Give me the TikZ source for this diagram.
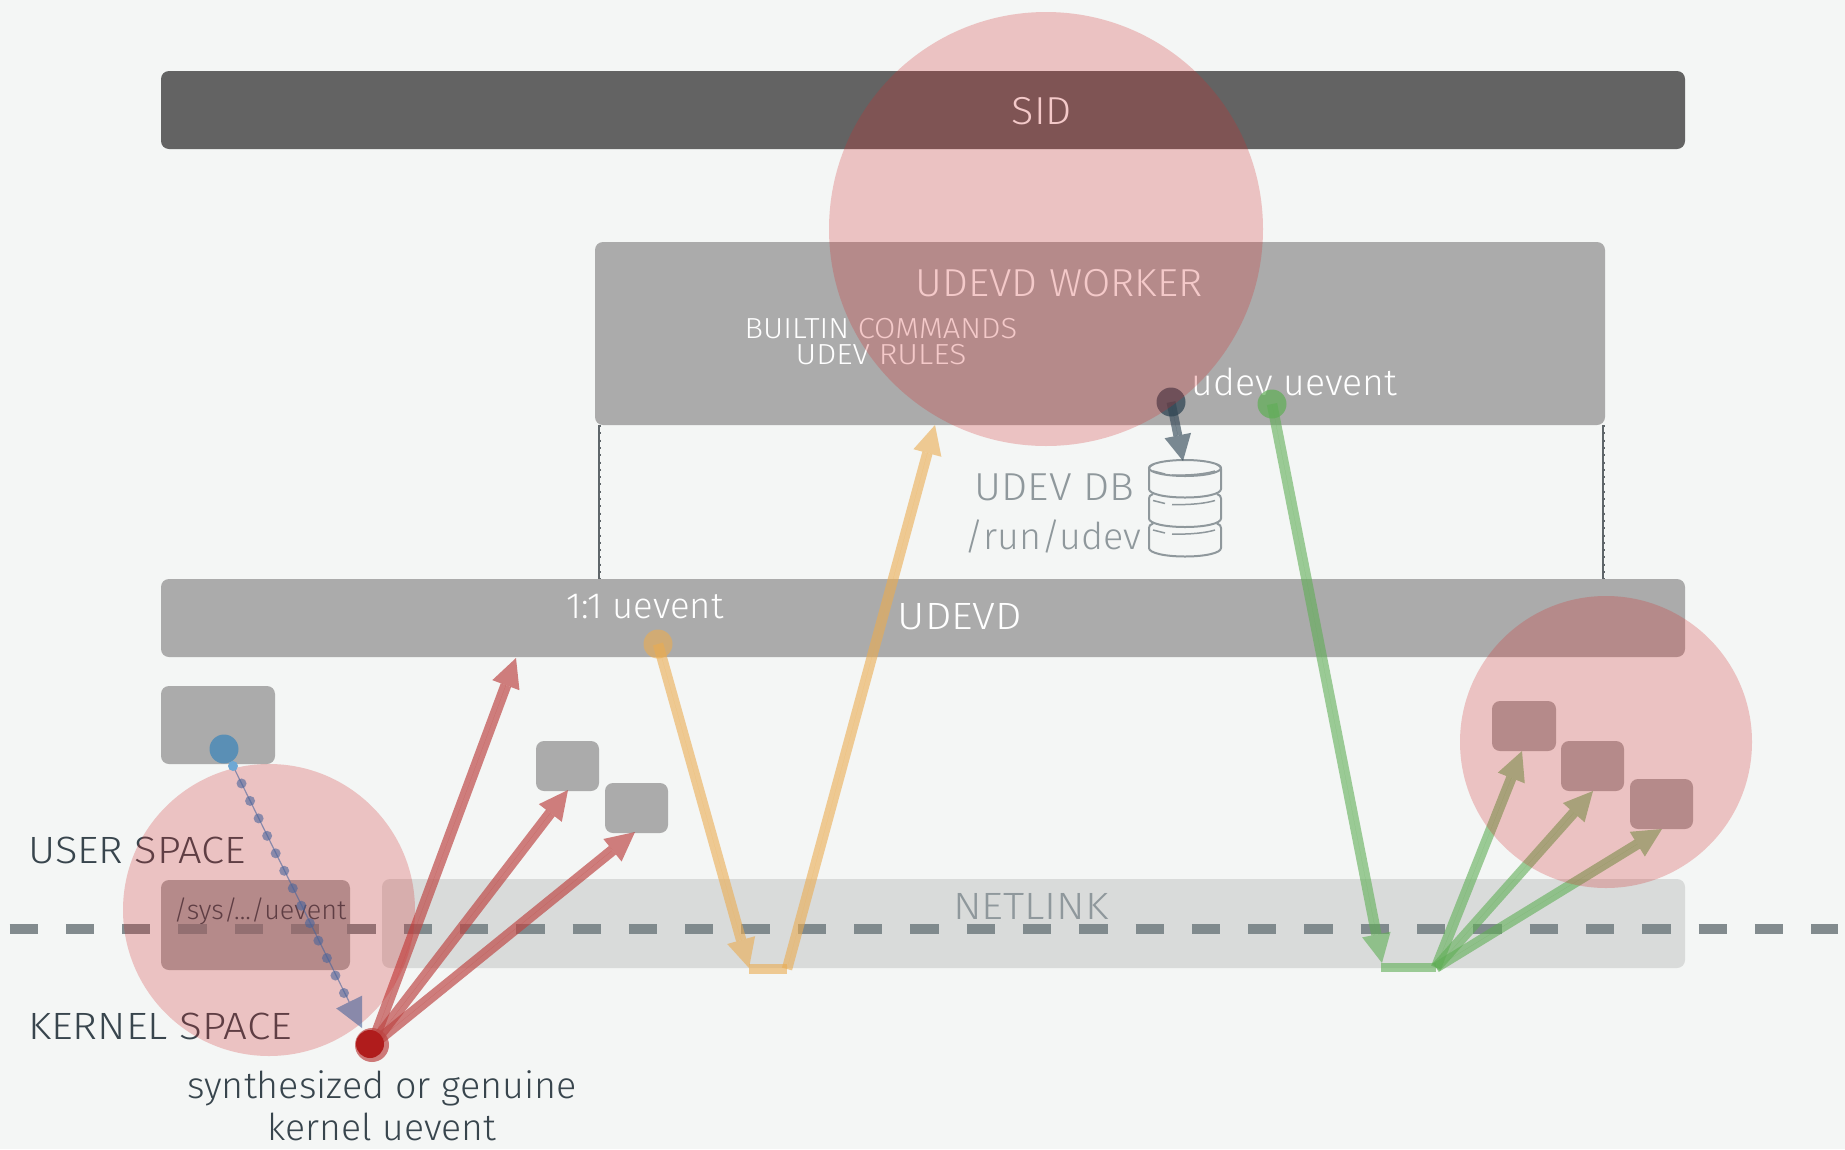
\documentclass[tikz,border=0pt]{standalone}
\usepackage{fontspec}
\setmainfont{Fira Sans}[UprightFont=* Light]
\usetikzlibrary{arrows.meta,calc}
\definecolor{bgc}{HTML}{F4F6F5}
\definecolor{barc}{HTML}{ABABAB}
\definecolor{sidc}{HTML}{636363}
\definecolor{netc}{HTML}{D9DBDA}
\definecolor{dashc}{HTML}{7C8689}
\definecolor{inkc}{HTML}{38454D}
\definecolor{tiec}{HTML}{5F666A}
\definecolor{mutec}{HTML}{8F989C}
\definecolor{redc}{HTML}{BD4543}
\definecolor{grnc}{HTML}{5FAE55}
\definecolor{orgc}{HTML}{EBAC50}
\definecolor{slatec}{HTML}{2F4554}
\definecolor{bluec}{HTML}{49649B}
\definecolor{halo}{HTML}{D42A2A}
\definecolor{bluedot}{HTML}{5A8FB5}
\definecolor{bluefirst}{HTML}{6EA8D4}
\definecolor{deepred}{HTML}{B01C1C}
\newcommand{\lab}[3]{\scalebox{#2}[1]{\fontsize{#1}{#1}\selectfont #3}}
\tikzset{
  panel/.style={rounded corners=8pt,inner sep=0,outer sep=0,draw=none,fill=#1},
  halocirc/.style={circle,fill=halo,fill opacity=.25,draw=none,inner sep=0,outer sep=0},
  dotn/.style={circle,inner sep=0,outer sep=0,minimum size=29pt,draw=none},
  txt/.style={inner sep=0,outer sep=0,anchor=base,text=#1},
  flow/.style={line width=10.5pt,draw=#1,draw opacity=.6,fill=#1,fill opacity=.6,-{Triangle[length=29pt,width=29pt,line width=0pt]}},
  bar/.style={line width=9.5pt,draw=#1,draw opacity=.6},
  tieline/.style={line width=1.2pt,draw=tiec},
  tiedots/.style={line width=3pt,draw=tiec,dash pattern=on 2pt off 5.3pt}
}
\begin{document}
\begin{tikzpicture}[x=1pt,y=-1pt]
\useasboundingbox (0,0) rectangle (1845,1149);
\fill[bgc] (0,0) rectangle (1845,1149);
% panels
\node[panel=sidc,minimum width=1524pt,minimum height=78pt] (sid) at (923,110) {};
\node[panel=barc,minimum width=1010pt,minimum height=183pt] (worker) at (1100,333.5) {};
\node[panel=barc,minimum width=1524pt,minimum height=78pt] (udevd) at (923,618) {};
\node[panel=barc,minimum width=114pt,minimum height=78pt] (proc) at (218,725) {};
\node[panel=barc,minimum width=63pt,minimum height=50pt] (pa) at (567.5,766) {};
\node[panel=barc,minimum width=63pt,minimum height=50pt] (pb) at (636.5,808) {};
\node[panel=barc,minimum width=64pt,minimum height=50pt] (pc) at (1524,726) {};
\node[panel=barc,minimum width=63pt,minimum height=50pt] (pd) at (1592.5,766) {};
\node[panel=barc,minimum width=63pt,minimum height=50pt] (pe) at (1661.5,804) {};
\node[panel=barc,minimum width=189pt,minimum height=90pt] (sys) at (255.5,925) {};
\node[panel=netc,minimum width=1303pt,minimum height=89pt] (net) at (1033.5,923.5) {};
% ties
\coordinate (tlt) at (599,425); \coordinate (tlb) at (599,579);
\coordinate (trt) at (1603,425); \coordinate (trb) at (1603,579);
\draw[tieline] (tlt) -- (tlb);
\draw[tiedots] (tlt) -- (tlb);
\draw[tieline] (trt) -- (trb);
\draw[tiedots] (trt) -- (trb);
% labels
\node[txt=white] (tsid) at (1042,124) {\lab{39}{1.06}{SID}};
\node[txt=white] (tworker) at (1059,296) {\lab{39}{1.05}{UDEVD WORKER}};
\node[txt=white] (tbuilt) at (881,338) {\lab{29}{1.065}{BUILTIN COMMANDS}};
\node[txt=white] (trules) at (881,364) {\lab{29}{1.095}{UDEV RULES}};
\node[txt=white] (tudev) at (1294.5,395) {\lab{37}{1.01}{udev uevent}};
\node[txt=white] (tone) at (645,618) {\lab{36.5}{1}{1:1 uevent}};
\node[txt=white] (tudevd) at (960,629) {\lab{38}{1.10}{UDEVD}};
\node[txt=mutec] (tdb) at (1054.5,500) {\lab{39}{1.06}{UDEV DB}};
\node[txt=mutec] (trun) at (1053,549) {\lab{37}{1.02}{/run/udev}};
\node[txt=mutec] (tnet) at (1031,919) {\lab{38}{1.12}{NETLINK}};
\node[txt=inkc] (tuser) at (137,863) {\lab{38}{1.095}{USER SPACE}};
\node[txt=inkc] (tkern) at (160,1039) {\lab{38}{1.11}{KERNEL SPACE}};
\node[txt=inkc] (tsys) at (260,919) {\lab{27}{1}{/sys/.../uevent}};
\node[txt=inkc] (tsyn) at (382,1098) {\lab{37}{1.02}{synthesized or genuine}};
\node[txt=inkc] (tker) at (382,1140) {\lab{37}{1.01}{kernel uevent}};
% dashed boundary
\coordinate (dl) at (9.5,929); \coordinate (dr) at (1838,929);
\draw[dashc,line width=10pt,dash pattern=on 28.3pt off 28pt,opacity=.95] (dl) -- (dr);
% DB icon
\foreach \d in {0,29.5,59}{
  \draw[mutec,line width=2pt,line join=round] (1153,{464.5+\d}) .. controls (1150,{465.5+\d}) and (1149,{467+\d}) .. (1149,{469+\d}) -- (1149,{489+\d})
    .. controls (1149,{494+\d}) and (1165,{497.5+\d}) .. (1185,{497.5+\d})
    .. controls (1205,{497.5+\d}) and (1221,{494+\d}) .. (1221,{489+\d}) -- (1221,{469+\d})
    .. controls (1221,{467+\d}) and (1220,{465.5+\d}) .. (1217,{464.5+\d});
  \draw[mutec,line width=1.5pt] (1153,{471+\d}) -- (1165,{474+\d});
  \draw[mutec,line width=1.5pt] (1172,{475+\d}) .. controls (1190,{475.5+\d}) and (1205,{474+\d}) .. (1215,{471+\d});
}
\draw[mutec,line width=2pt] (1185,468) ellipse [x radius=36,y radius=8];
% dots under halos
\node[dotn,fill=slatec,fill opacity=.75] (ddb) at (1171,402) {};
\node[dotn,fill=grnc,fill opacity=.7] (dgrn) at (1272,404) {};
\node[dotn,fill=orgc,fill opacity=.6] (dorg) at (658,644) {};
% flows
\coordinate (xdb) at (1183,461);
\draw[flow=slatec,line width=9pt,-{Triangle[length=26pt,width=27pt,line width=0pt]},draw opacity=.62,fill opacity=.62] (ddb.center) -- (xdb);
\coordinate (ga) at (1382,963); \coordinate (gb) at (1381,967.5); \coordinate (gc) at (1436,967.5);
\coordinate (ge) at (1522,751); \coordinate (gf) at (1593,791); \coordinate (gg) at (1662,829);
\draw[flow=grnc] (dgrn.center) -- (ga);
\draw[bar=grnc] (gb) -- (gc);
\draw[flow=grnc] (gc) -- (ge);
\draw[flow=grnc] (gc) -- (gf);
\draw[flow=grnc] (gc) -- (gg);
\coordinate (oa) at (749,968); \coordinate (ob) at (749,969); \coordinate (oc) at (787,969);
\coordinate (oe) at (935,425);
\draw[flow=orgc] (dorg.center) -- (oa);
\draw[bar=orgc] (ob) -- (oc);
\draw[flow=orgc] (oc) -- (oe);
\coordinate (rs) at (372,1045);
\coordinate (ra) at (516,658); \coordinate (rb) at (568,790); \coordinate (rc) at (635,832);
\draw[flow=redc,line width=11pt,draw opacity=.68,fill opacity=.68] (rs) -- (ra);
\draw[flow=redc,line width=11pt,draw opacity=.68,fill opacity=.68] (rs) -- (rb);
\draw[flow=redc,line width=11pt,draw opacity=.68,fill opacity=.68] (rs) -- (rc);
% halos
\node[halocirc,minimum size=434pt] (h1) at (1046,229) {};
\node[halocirc,minimum size=292pt] (h2) at (269,910) {};
\node[halocirc,minimum size=292pt] (h3) at (1606,742) {};
% blue path
\node[dotn,fill=bluedot] (dblue) at (224,749) {};
\coordinate (bs) at (233,766); \coordinate (be) at (344,993); \coordinate (bt) at (362,1028);
\draw[bluec,opacity=.6,line width=1.2pt,-{Triangle[length=29pt,width=29pt,line width=0pt]}] (bs) -- (bt);
\foreach \t in {1,...,13}{
  \fill[bluec,opacity=.6] ($(bs)!{\t/13}!(be)$) circle (5pt);
}
\fill[bluefirst] (bs) circle (5pt);
% red source
\node[dotn,fill=redc,fill opacity=.7,minimum size=34pt] (drs) at (rs) {};
\node[dotn,fill=deepred,minimum size=28pt] (drd) at (370,1044) {};
\end{tikzpicture}
\end{document}
